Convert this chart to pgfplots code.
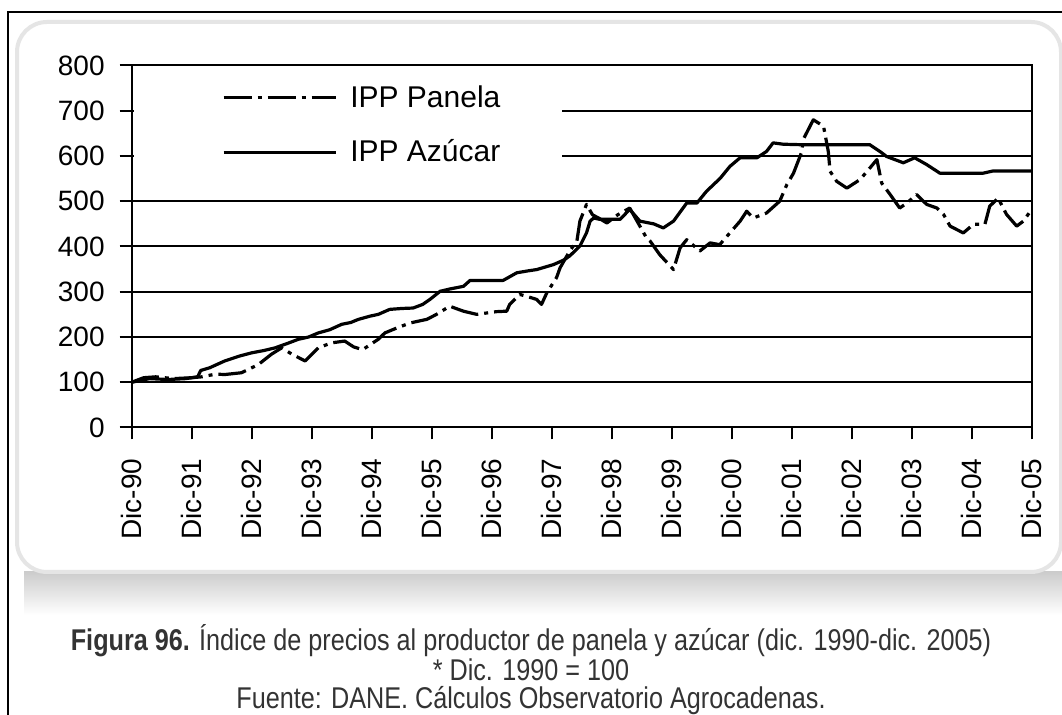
\documentclass[border=0pt]{standalone}
\usepackage{fontspec}
\setmainfont{Liberation Sans}
\newfontfamily\capfont[FakeStretch=0.84]{Liberation Sans}
\usepackage{pgfplots}
\pgfplotsset{compat=1.18}
\begin{document}
\begin{tikzpicture}
\useasboundingbox (0pt,0pt) rectangle (531pt,357.5pt);
\begin{scope}[x=0.5pt,y=0.5pt]
\fill[white] (0,0) rectangle (1062,715);
\shade[top color=black!20, bottom color=white] (24,100) rectangle (1062,143);
\draw[black!10, line width=2pt, fill=white, rounded corners=15pt] (17,143) rectangle (1061,693);
\draw[line width=1pt] (8,0) -- (8,703) -- (1062,703);
\end{scope}
\begin{axis}[
 at={(65.85pt,143.75pt)}, anchor=south west,
 scale only axis, width=450pt, height=181pt,
 xmin=0, xmax=15, ymin=0, ymax=800,
 xtick={0,1,...,15},
 xticklabels={Dic-90,Dic-91,Dic-92,Dic-93,Dic-94,Dic-95,Dic-96,Dic-97,Dic-98,Dic-99,Dic-00,Dic-01,Dic-02,Dic-03,Dic-04,Dic-05},
 ytick={0,100,...,800},
 tick pos=left, tick align=outside, major tick length=6pt,
 ymajorgrids, grid style={black, line width=1pt},
 axis line style={black, line width=1pt},
 every tick/.style={black, line width=1pt},
 ticklabel style={font=\fontsize{14}{14}\selectfont},
 /pgf/number format/assume math mode=true,
 xticklabel style={rotate=90, anchor=east},
 xticklabel shift=6pt, yticklabel shift=4pt,
 legend style={at={(0,1)}, anchor=north west, yshift=-1.5pt, xshift=1pt,
   draw=none, fill=white, inner xsep=0pt, inner ysep=8.6pt,
   row sep=15.5pt, column sep=6.5pt, font=\fontsize{15}{15}\selectfont,
   nodes={inner sep=0pt, text height=10.7pt, text depth=1pt}},
 legend cell align=left,
 legend image code/.code={\path (-44pt,0pt); \draw[#1] (0pt,0pt) -- (56pt,0pt);},
]
\addplot[black, line width=1.6pt, line join=round, dash pattern=on 14pt off 3pt on 2pt off 3pt] coordinates {
(0,100) (0.2,110) (0.4,112) (0.7,108) (1.0,110) (1.17,112) (1.4,118) (1.55,117)
(1.83,121) (2.11,139) (2.33,162) (2.5,176) (2.67,162) (2.89,147) (3.11,176)
(3.33,187) (3.55,191) (3.7,178) (3.85,172) (4.11,195) (4.22,209) (4.42,220)
(4.64,231) (4.92,239) (5.08,250) (5.3,268) (5.53,257) (5.75,250) (6.08,256)
(6.25,257) (6.3,272) (6.47,294) (6.58,290) (6.75,283) (6.83,272) (6.92,298)
(7.08,331) (7.14,353) (7.3,390) (7.42,412) (7.47,456) (7.58,493) (7.68,470)
(7.78,463) (7.92,452) (8.1,470) (8.3,485) (8.44,452) (8.58,419) (8.64,412)
(8.8,382) (9.03,349) (9.14,397) (9.25,415) (9.47,390) (9.64,408) (9.8,404)
(9.97,430) (10.14,456) (10.25,478) (10.36,463) (10.58,474) (10.8,500)
(10.92,537) (11.03,562) (11.17,610) (11.19,636) (11.36,680) (11.53,666)
(11.61,610) (11.64,566) (11.75,544) (11.92,529) (12.14,548) (12.3,573)
(12.42,592) (12.5,540) (12.64,515) (12.8,485) (12.92,496) (13.08,515)
(13.25,493) (13.42,485) (13.53,471) (13.64,445) (13.86,430) (14.03,449)
(14.22,449) (14.3,489) (14.44,507) (14.58,471) (14.75,445) (14.86,456) (15.0,482)
};
\addlegendentry{\makebox[106pt][l]{IPP Panela}}
\addplot[black, line width=1.6pt, line join=round] coordinates {
(0,100) (0.3,108) (0.6,106) (0.9,108) (1.1,112) (1.15,126) (1.3,132) (1.55,147)
(1.8,158) (2.0,165) (2.2,170) (2.39,176) (2.6,186) (2.78,195) (2.95,200)
(3.11,209) (3.3,216) (3.5,228) (3.65,232) (3.78,239) (3.97,246) (4.11,250)
(4.3,261) (4.5,263) (4.69,264) (4.85,272) (4.97,283) (5.14,301) (5.3,306)
(5.53,312) (5.64,325) (5.9,325) (6.19,325) (6.42,342) (6.6,346) (6.75,349)
(7.03,360) (7.2,370) (7.3,379) (7.47,401) (7.58,430) (7.64,456) (7.7,463)
(7.8,460) (7.92,460) (8.14,460) (8.3,482) (8.47,456) (8.7,450) (8.86,441)
(9.03,456) (9.25,496) (9.42,496) (9.58,522) (9.81,551) (9.97,577) (10.14,596)
(10.42,596) (10.58,610) (10.69,629) (10.86,626) (11.14,625) (12.3,625)
(12.47,610) (12.58,599) (12.86,585) (13.05,596) (13.25,581) (13.47,562)
(14.19,562) (14.36,567) (15,567)
};
\addlegendentry{\makebox[106pt][l]{IPP Azúcar}}
\end{axis}
\node[font=\capfont\fontsize{15}{15}\selectfont, anchor=base, text=black!80] at (265.5pt,32pt)
 {\textbf{Figura 96.} Índice de precios al productor de panela y azúcar (dic. 1990-dic. 2005)};
\node[font=\capfont\fontsize{15}{15}\selectfont, anchor=base, text=black!80] at (265.5pt,17pt)
 {* Dic. 1990 = 100};
\node[font=\capfont\fontsize{15}{15}\selectfont, anchor=base, text=black!80] at (265.5pt,3.4pt)
 {Fuente: DANE. Cálculos Observatorio Agrocadenas.};
\end{tikzpicture}
\end{document}
